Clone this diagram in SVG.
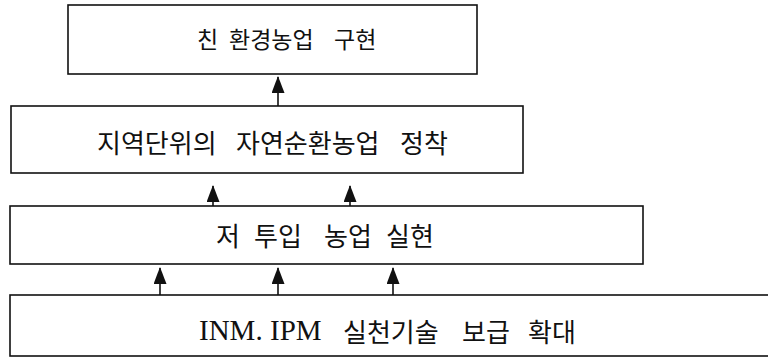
<svg xmlns="http://www.w3.org/2000/svg" width="768" height="364" viewBox="0 0 768 364">
<defs>
<style>
.box{fill:#fff;stroke:#111;stroke-width:1.6}
.lnk{stroke:#111;stroke-width:1.6;fill:none;marker-end:url(#ah)}
.t{font-family:"Noto Sans CJK KR","Noto Sans",sans-serif;fill:#111;dominant-baseline:central}
.s{font-family:"Liberation Serif","Noto Sans CJK KR",serif;font-size:29px;fill:#111;dominant-baseline:central}
.k{font-family:"Noto Sans CJK KR",sans-serif;font-size:26px}
</style>
<marker id="ah" markerUnits="userSpaceOnUse" markerWidth="17" markerHeight="13" viewBox="0 0 17 13" refX="16" refY="6.5" orient="auto">
<path d="M0,0 L17,6.5 L0,13 Z" fill="#111"/>
</marker>
</defs>
<rect width="768" height="364" fill="#fff"/>
<g id="n1">
<rect class="box" x="68" y="5" width="409" height="69"/>
<text class="t" y="38" font-size="23"><tspan x="197">친 </tspan><tspan x="229">환경농업 </tspan><tspan x="334">구현</tspan></text>
</g>
<g id="n2">
<rect class="box" x="11" y="106" width="512" height="67"/>
<text class="t" y="141" font-size="26"><tspan x="97">지역단위의 </tspan><tspan x="236">자연순환농업 </tspan><tspan x="400">정착</tspan></text>
</g>
<g id="n3">
<rect class="box" x="10" y="206" width="633" height="58"/>
<text class="t" y="234" font-size="26"><tspan x="216">저 </tspan><tspan x="254">투입 </tspan><tspan x="324">농업 </tspan><tspan x="386">실현</tspan></text>
</g>
<g id="n4">
<rect class="box" x="10" y="295" width="780" height="61"/>
<text class="s" y="330"><tspan x="199">INM. </tspan><tspan x="270">IPM </tspan><tspan class="k" x="343">실천기술 </tspan><tspan class="k" x="462">보급 </tspan><tspan class="k" x="528">확대</tspan></text>
</g>
<g id="edges">
<path class="lnk" d="M278,106 V77"/>
<path class="lnk" d="M213,206 V186"/>
<path class="lnk" d="M350,206 V186"/>
<path class="lnk" d="M160,295 V268"/>
<path class="lnk" d="M278,295 V268"/>
<path class="lnk" d="M393,295 V268"/>
</g>
</svg>
